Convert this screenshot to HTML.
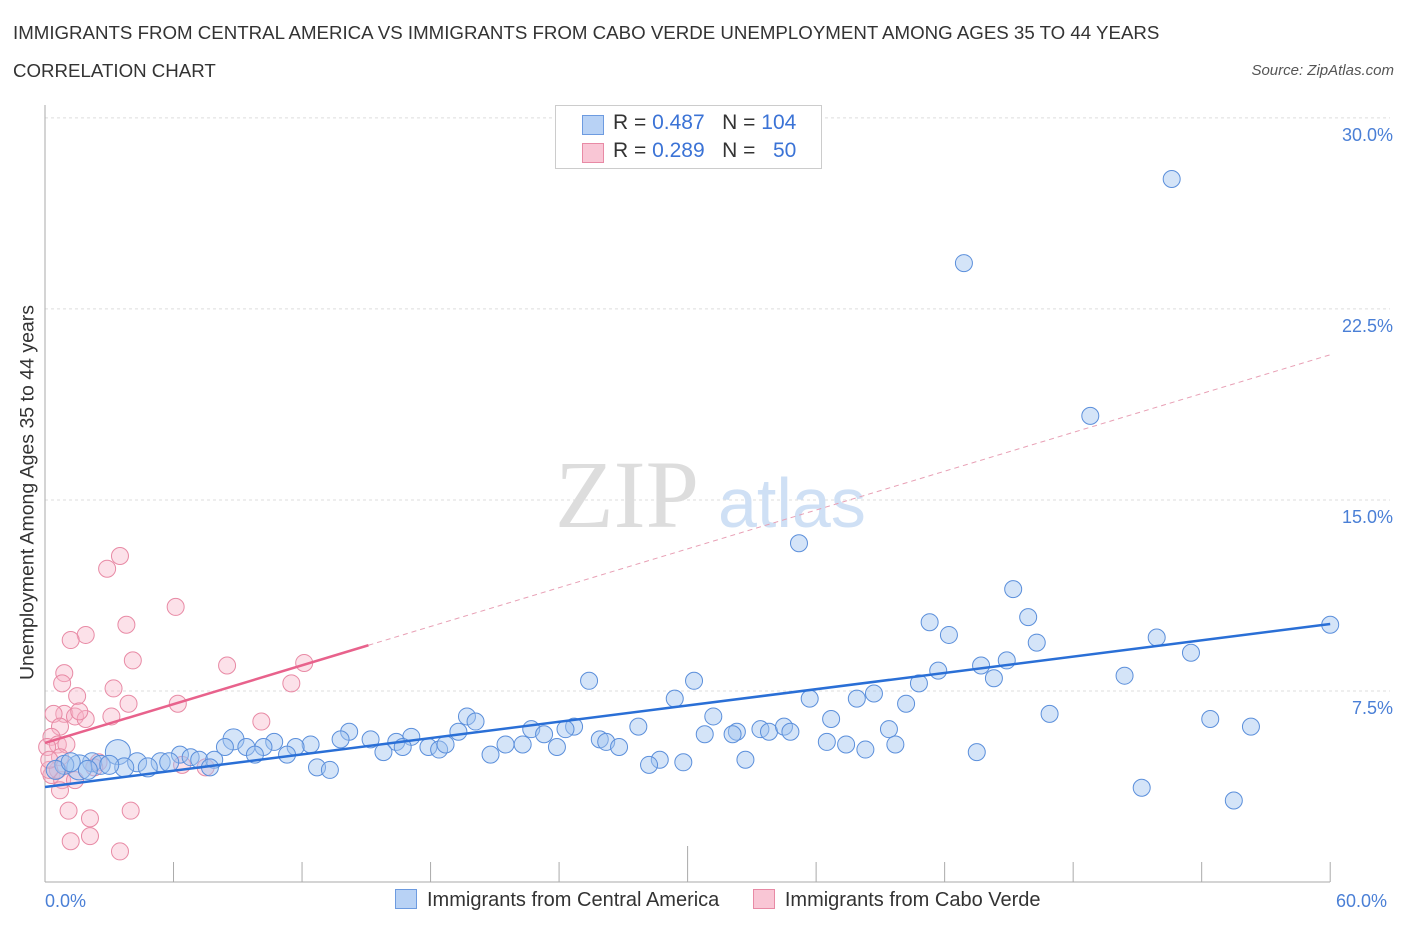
<!DOCTYPE html>
<html><head><meta charset="utf-8"><style>
body{margin:0;background:#fff;font-family:"Liberation Sans",sans-serif;}
#wrap{position:relative;width:1406px;height:930px;overflow:hidden}
.t{position:absolute;white-space:nowrap}
</style></head><body><div id="wrap">
<div class="t" style="left:13px;top:22px;font-size:18.7px;color:#333">IMMIGRANTS FROM CENTRAL AMERICA VS IMMIGRANTS FROM CABO VERDE UNEMPLOYMENT AMONG AGES 35 TO 44 YEARS</div>
<div class="t" style="left:13px;top:60px;font-size:18.7px;color:#333">CORRELATION CHART</div>
<div class="t" style="right:12px;top:62px;font-size:15px;color:#555;font-style:italic">Source: ZipAtlas.com</div>
<svg id="svg" width="1406" height="930" style="position:absolute;left:0;top:0"></svg>
</div>
<script>
const yTicks=[7.5,15,22.5,30];
const yTickLabels=["7.5%","15.0%","22.5%","30.0%"];
const blueX=[52.6,42.9,48.8,35.2,45.2,60,41.3,45.9,42.2,51.9,46.3,53.5,44.9,43.7,41.7,44.3,50.4,25.4,30.3,40.8,35.7,37.9,38.7,29.4,40.2,46.9,54.4,56.3,31.2,36.7,19.7,20.1,39.4,27.7,30.8,32.3,33.4,33.8,34.5,34.8,32.1,24.7,24.3,22.7,23.3,14.2,19.3,8.8,10.7,13.8,15.2,17.1,16.4,36.5,37.4,39.7,21.5,22.3,23.9,25.9,26.2,26.8,12.4,11.7,10.2,9.4,8.4,15.8,16.7,17.9,18.4,18.7,43.5,38.3,20.8,6.3,6.8,7.2,7.9,9.8,11.3,5.4,5.8,4.3,3.4,2.2,2.6,1.6,0.9,0.5,28.7,28.2,29.8,32.7,7.7,4.8,3.7,3.0,12.7,13.3,51.2,55.5,1.2,2.0];
const blueY=[27.6,24.3,18.3,13.3,11.5,10.1,10.2,10.4,9.7,9.6,9.4,9.0,8.7,8.5,8.3,8.0,8.1,7.9,7.9,7.8,7.2,7.2,7.4,7.2,7.0,6.6,6.4,6.1,6.5,6.4,6.5,6.3,6.0,6.1,5.8,5.9,6.0,5.9,6.1,5.9,5.8,6.1,6.0,6.0,5.8,5.9,5.9,5.6,5.5,5.6,5.6,5.7,5.5,5.5,5.4,5.4,5.4,5.4,5.3,5.6,5.5,5.3,5.4,5.3,5.3,5.3,5.3,5.1,5.3,5.3,5.2,5.4,5.1,5.2,5.0,5.0,4.9,4.8,4.8,5.0,5.0,4.7,4.7,4.7,5.1,4.7,4.6,4.5,4.6,4.4,4.8,4.6,4.7,4.8,4.5,4.5,4.5,4.6,4.5,4.4,3.7,3.2,4.7,4.4];
const blueR=[8,8,8,8,8,8,8,8,8,8,8,8,8,8,8,8,8,8,8,8,8,8,8,8,8,8,8,8,8,8,8,8,8,8,8,8,8,8,8,8,8,8,8,8,8,8,8,10,8,8,8,8,8,8,8,8,8,8,8,8,8,8,8,8,8,8,8,8,8,8,8,8,8,8,8,8,8,8,8,8,8,9,9,9,12,9,9,12,9,9,8,8,8,8,8,9,9,9,8,8,8,8,9,9];
const pinkX=[3.5,2.9,6.1,3.8,1.9,1.2,4.1,8.5,12.1,0.9,0.8,11.5,1.5,3.2,3.9,6.2,0.9,1.4,0.4,1.9,3.1,1.6,10.1,0.7,0.3,0.6,1.0,0.1,0.7,2.5,2.3,6.4,7.5,0.3,0.8,0.6,1.4,0.7,1.1,2.1,4.0,2.1,1.2,3.5,0.2,0.2];
const pinkY=[12.8,12.3,10.8,10.1,9.7,9.5,8.7,8.5,8.6,8.2,7.8,7.8,7.3,7.6,7.0,7.0,6.6,6.5,6.6,6.4,6.5,6.7,6.3,6.1,5.7,5.4,5.4,5.3,4.9,4.7,4.5,4.6,4.5,4.2,4.0,4.4,4.0,3.6,2.8,2.5,2.8,1.8,1.6,1.2,4.4,4.8];
const blueLine=[3.73,10.13];
const pinkLine=[5.46,0.254];
const X=v=>45+v*21.42, Y=v=>882-v*25.47;
const svg=document.getElementById('svg');
const NS='http://www.w3.org/2000/svg';
function mk(t,a){const e=document.createElementNS(NS,t);for(const k in a)e.setAttribute(k,a[k]);svg.appendChild(e);return e;}
yTicks.forEach((v,i)=>{
 const g=mk('line',{x1:45,x2:1390,y1:Y(v),y2:Y(v),stroke:'#ddd','stroke-dasharray':'3,3'});
 
 
 const t=mk('text',{x:1393,y:Y(v)+23,'text-anchor':'end','font-size':18,fill:'#4a7fd6','font-family':'Liberation Sans'});
 t.textContent=yTickLabels[i];
 
 
});
const wm=mk('text',{x:555,y:527,'font-size':96,fill:'#ddd','font-family':'Liberation Serif'});wm.textContent='ZIP';


const wm2=mk('text',{x:718,y:527,'font-size':70,fill:'#cfe0f5','font-family':'Liberation Sans'});wm2.textContent='atlas';


const ax=mk('line',{x1:45,x2:45,y1:105,y2:882,stroke:'#aaa'});


const bx=mk('line',{x1:45,x2:1330,y1:882,y2:882,stroke:'#aaa'});


for(let i=1;i<=10;i++){const xv=i*6;const tk=mk('line',{x1:X(xv),x2:X(xv),y1:i==5?846:862,y2:882,stroke:'#aaa'});
 
 }
pinkX.forEach((x,i)=>{const c=mk('circle',{cx:X(x),cy:Y(pinkY[i]),r:8.5,fill:'rgba(248,180,200,0.4)',stroke:'#e88aa5','stroke-width':1});
 
 });
blueX.forEach((x,i)=>{const c=mk('circle',{cx:X(x),cy:Y(blueY[i]),r:blueR[i]+0.5,fill:'rgba(160,195,240,0.45)',stroke:'#5b8fdb','stroke-width':1});
 
 });
const bl=mk('line',{x1:X(0),y1:Y(blueLine[0]),x2:X(60),y2:Y(blueLine[1]),stroke:'#2a6fd6','stroke-width':2.5});


const pl=mk('line',{x1:X(0),y1:Y(pinkLine[0]),x2:X(15.1),y2:Y(pinkLine[0]+pinkLine[1]*15.1),stroke:'#e8628c','stroke-width':2.5});


const pd=mk('line',{x1:X(15.1),y1:Y(pinkLine[0]+pinkLine[1]*15.1),x2:X(60),y2:Y(pinkLine[0]+pinkLine[1]*60),stroke:'#e8a0b5','stroke-width':1,'stroke-dasharray':'5,4'});


</script>
<div class="t" style="left:-172px;top:481px;width:400px;text-align:center;transform:rotate(-90deg);font-size:19.5px;color:#333">Unemployment Among Ages 35 to 44 years</div>
<div class="t" style="left:45px;top:891px;font-size:18px;color:#4a7fd6">0.0%</div>
<div class="t" style="left:1336px;top:891px;font-size:18px;color:#4a7fd6">60.0%</div>
<div style="position:absolute;left:555px;top:105px;width:265px;height:62px;border:1px solid #ccc;background:#fff;font-size:21px;color:#333">
 <div style="position:absolute;left:26px;top:9px;width:20px;height:18px;background:#b8d2f5;border:1px solid #6d9be0"></div>
 <div class="t" style="left:57px;top:5px">R = <span style="color:#3b73d6">0.487</span>&nbsp;&nbsp;&nbsp;N = <span style="color:#3b73d6">104</span></div>
 <div style="position:absolute;left:26px;top:37px;width:20px;height:18px;background:#f9c6d5;border:1px solid #e88aa5"></div>
 <div class="t" style="left:57px;top:33px">R = <span style="color:#3b73d6">0.289</span>&nbsp;&nbsp;&nbsp;N = &nbsp;&nbsp;<span style="color:#3b73d6">50</span></div>
</div>
<div style="position:absolute;left:395px;top:889px;font-size:20px;color:#333;white-space:nowrap">
 <span><span style="display:inline-block;width:20px;height:18px;background:#b8d2f5;border:1px solid #6d9be0;vertical-align:-3px;margin-right:10px"></span>Immigrants from Central America</span>
 <span style="margin-left:28px"><span style="display:inline-block;width:20px;height:18px;background:#f9c6d5;border:1px solid #e88aa5;vertical-align:-3px;margin-right:10px"></span>Immigrants from Cabo Verde</span>
</div>
</body></html>
